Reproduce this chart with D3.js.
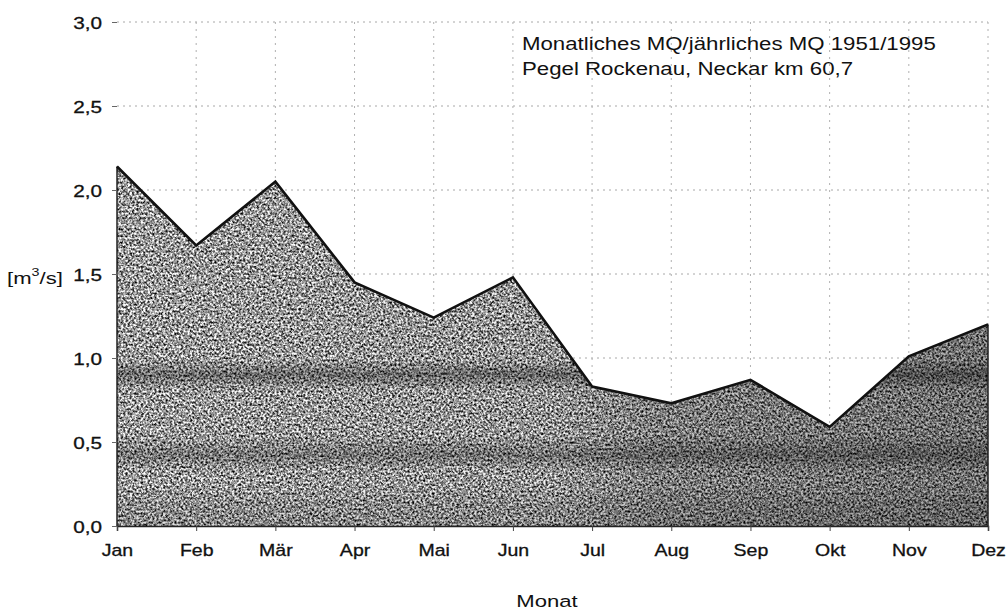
<!DOCTYPE html>
<html>
<head>
<meta charset="utf-8">
<script src="https://cdn.jsdelivr.net/npm/d3@7"></script>
<style>
  body { margin: 0; background: #fff; }
  svg { font-family: "Liberation Sans", Arial, sans-serif; }
</style>
</head>
<body>
<svg id="chart" width="1008" height="610"></svg>
<script>
// monthly mean discharge ratio, Pegel Rockenau
const months = ['Jan', 'Feb', 'Mär', 'Apr', 'Mai', 'Jun', 'Jul', 'Aug', 'Sep', 'Okt', 'Nov', 'Dez'];
const values = [2.14, 1.67, 2.05, 1.45, 1.24, 1.48, 0.83, 0.73, 0.87, 0.59, 1.01, 1.20];
const yTicks = [0, 0.5, 1.0, 1.5, 2.0, 2.5, 3.0];
const titleLines = ['Monatliches MQ/jährliches MQ 1951/1995', 'Pegel Rockenau, Neckar km 60,7'];

const svg = d3.select('#chart');
const margin = { top: 22, right: 20, bottom: 84, left: 117 };
const width = 988 - margin.left;
const height = 526 - margin.top;
const stretch = 1.22; // the scanned chart is wider than tall, so is its lettering

const x = d3.scalePoint().domain(months).range([0, width]);
const y = d3.scaleLinear().domain([0, 3]).range([height, 0]);
const fmt = d => d3.format('.1f')(d).replace('.', ',');

const defs = svg.append('defs');

// grey speckle of the scan
const grain = defs.append('filter').attr('id', 'grain')
  .attr('x', 0).attr('y', 0).attr('width', 1).attr('height', 1)
  .attr('color-interpolation-filters', 'sRGB');
grain.append('feTurbulence').attr('type', 'fractalNoise').attr('baseFrequency', 0.45)
  .attr('numOctaves', 2).attr('seed', 7).attr('result', 'noise');
grain.append('feColorMatrix').attr('in', 'noise').attr('type', 'matrix')
  .attr('values', '2 0 0 0 -0.4  2 0 0 0 -0.4  2 0 0 0 -0.4  0 0 0 0 1')
  .attr('result', 'grey');
grain.append('feComposite').attr('in', 'grey').attr('in2', 'SourceGraphic').attr('operator', 'in');

// darker towards the right
const hGrad = defs.append('linearGradient').attr('id', 'hgrad');
[[0, 0], [0.5, 0.05], [0.62, 0.2], [1, 0.3]].forEach(([o, a]) => {
  hGrad.append('stop').attr('offset', o).attr('stop-color', '#000').attr('stop-opacity', a);
});

// dark horizontal bands from the scan
const bands = defs.append('linearGradient').attr('id', 'bands')
  .attr('gradientUnits', 'userSpaceOnUse')
  .attr('x1', 0).attr('x2', 0).attr('y1', y(3)).attr('y2', y(0));
[[0, 0], [0.67, 0], [0.70, 0.32], [0.73, 0], [0.82, 0], [0.86, 0.25], [0.89, 0], [0.92, 0], [0.96, 0.1], [1, 0.12]]
  .forEach(([o, a]) => {
    bands.append('stop').attr('offset', o).attr('stop-color', '#000').attr('stop-opacity', a);
  });

const g = svg.append('g').attr('transform', `translate(${margin.left},${margin.top})`);

// dotted grid
g.append('g').selectAll('line').data(yTicks.slice(1)).join('line')
  .attr('x1', 0).attr('x2', width)
  .attr('y1', d => y(d)).attr('y2', d => y(d))
  .attr('stroke', '#a8a8a8').attr('stroke-width', 1).attr('stroke-dasharray', '2,4');
g.append('g').selectAll('line').data(months.slice(1)).join('line')
  .attr('x1', d => x(d)).attr('x2', d => x(d))
  .attr('y1', 0).attr('y2', height)
  .attr('stroke', '#b0b0b0').attr('stroke-width', 1).attr('stroke-dasharray', '2,5');

const area = d3.area()
  .x((d, i) => x(months[i]))
  .y0(y(0))
  .y1(d => y(d));

const line = d3.line()
  .x((d, i) => x(months[i]))
  .y(d => y(d));

g.append('path').datum(values).attr('d', area).attr('fill', '#888').attr('filter', 'url(#grain)');
g.append('path').datum(values).attr('d', area).attr('fill', 'url(#hgrad)');
g.append('path').datum(values).attr('d', area).attr('fill', 'url(#bands)');

// sides of the area
g.append('g').selectAll('line').data([0, values.length - 1]).join('line')
  .attr('x1', i => x(months[i])).attr('x2', i => x(months[i]))
  .attr('y1', y(0)).attr('y2', i => y(values[i]))
  .attr('stroke', '#222').attr('stroke-width', 1.5);

g.append('path').datum(values).attr('d', line)
  .attr('fill', 'none').attr('stroke', '#111').attr('stroke-width', 2.6)
  .attr('stroke-linejoin', 'miter');

// axes
const xAxis = g.append('g').attr('transform', `translate(0,${height})`)
  .call(d3.axisBottom(x).tickSize(5));
xAxis.select('.domain').attr('stroke', '#222').attr('stroke-width', 1.5);
xAxis.selectAll('.tick line').attr('stroke', '#444');
xAxis.selectAll('text')
  .attr('y', 30).attr('dy', 0)
  .attr('transform', `scale(${stretch},1)`)
  .attr('font-size', 16).attr('fill', '#111')
  .attr('stroke', '#111').attr('stroke-width', 0.3);

const yAxis = g.append('g')
  .call(d3.axisLeft(y).tickValues(yTicks).tickFormat(fmt).tickSize(5));
yAxis.select('.domain').remove();
yAxis.selectAll('.tick line').attr('stroke', '#666');
yAxis.selectAll('text')
  .attr('x', -15 / stretch).attr('dy', '0.36em')
  .attr('transform', `scale(${stretch},1)`)
  .attr('font-size', 17).attr('fill', '#111')
  .attr('stroke', '#111').attr('stroke-width', 0.3);

// labels
const yLab = svg.append('text')
  .attr('transform', `translate(7,284) scale(1.3,1)`)
  .attr('font-size', 17).attr('fill', '#111');
yLab.append('tspan').text('[m');
yLab.append('tspan').text('3').attr('font-size', 11).attr('dy', -8);
yLab.append('tspan').text('/s]').attr('dy', 8);

svg.append('text')
  .attr('transform', `translate(547,607) scale(1.3,1)`)
  .attr('text-anchor', 'middle').attr('font-size', 17).attr('fill', '#111').text('Monat');

svg.append('g').selectAll('text').data(titleLines).join('text')
  .attr('transform', (d, i) => `translate(522,${50 + i * 25}) scale(1.27,1)`)
  .attr('font-size', 17.5).attr('fill', '#111').text(d => d);
</script>
</body>
</html>
